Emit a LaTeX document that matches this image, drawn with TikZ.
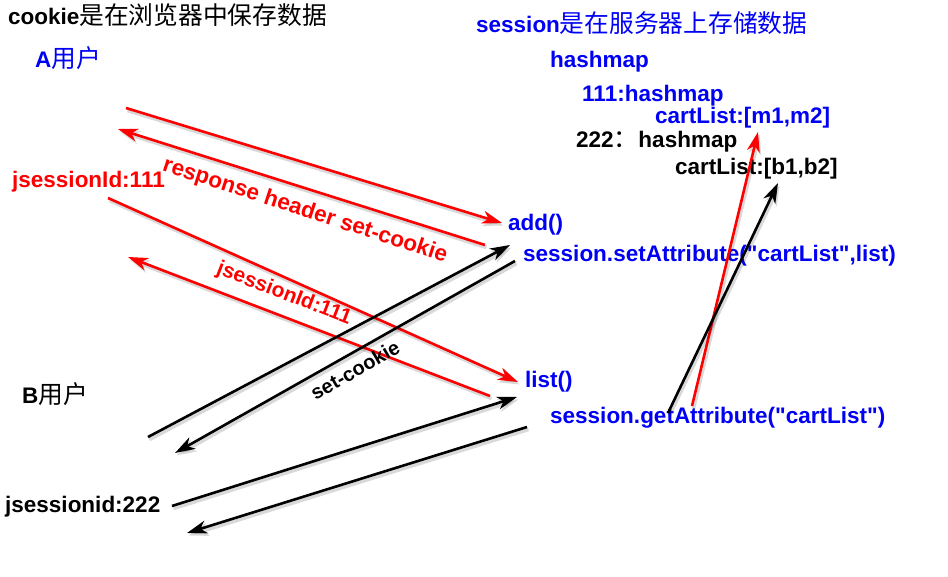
\documentclass[tikz,border=0pt]{standalone}
\usepackage{fontspec}
\setmainfont{Liberation Sans}[Ligatures=TeXOff]
\newfontfamily\cjk{Noto Sans CJK SC}[Scale=1.1]
\usetikzlibrary{arrows.meta}
\definecolor{cblue}{RGB}{0,0,245}
\definecolor{cred}{RGB}{255,0,0}
\newcommand{\zh}[1]{{\cjk\mdseries #1}}
\tikzset{
  txt/.style={anchor=base west, inner sep=0pt},
  arr/.style={-{Stealth[length=20pt,width=13pt,inset=6pt]}, line width=2.6pt,
    preaction={draw=black, opacity=.15, line width=3.6pt, transform canvas={shift={(1.5pt,-2.5pt)}}}}
}

\begin{document}
\begin{tikzpicture}[x=1pt, y=-1pt, font=\fontsize{22.5}{27}\selectfont\bfseries]
  \useasboundingbox (0,0) rectangle (948,577);
  \node[txt] (cookiehd) at (8,25) {cookie\zh{是在浏览器中保存数据}};
  \node[txt, cblue] (sessionhd) at (476,33) {session\zh{是在服务器上存储数据}};
  \node[txt, cblue] (usera) at (35,68) {A\zh{用户}};
  \node[txt] (userb) at (22,403) {B\zh{用户}};
  \node[txt, cblue] (map) at (550,68) {hashmap};
  \node[txt, cblue] (map1) at (582,102) {111:hashmap};
  \node[txt, cblue] (cart1) at (655,124) {cartList:[m1,m2]};
  \node[txt] (map2) at (576,148) {222\zh{：}hashmap};
  \node[txt] (cart2) at (675,175) {cartList:[b1,b2]};
  \node[txt, cred] (jsidA) at (12,188) {jsessionId:111};
  \node[txt, cblue] (add) at (508,231) {add()};
  \node[txt, cblue] (setattr) at (523,262) {session.setAttribute("cartList",list)};
  \node[txt, cblue] (list) at (525,388) {list()};
  \node[txt, cblue] (getattr) at (550,423) {session.getAttribute("cartList")};
  \node[txt] (jsidB) at (5,512) {jsessionid:222};

  \coordinate (reqA) at (126,108);   \coordinate (addin) at (502,223);
  \coordinate (addout) at (485,245); \coordinate (respA) at (118,129);
  \coordinate (reqA2) at (108,198);  \coordinate (listin) at (518,382);
  \coordinate (listout) at (490,396);\coordinate (respA2) at (128,257);
  \coordinate (getA) at (692,406);   \coordinate (cartA) at (758,132);
  \coordinate (reqB) at (148,437);   \coordinate (setin) at (510,245);
  \coordinate (setout) at (515,261); \coordinate (respB) at (175,453);
  \coordinate (reqB2) at (172,506);  \coordinate (listinB) at (517,397);
  \coordinate (listoutB) at (527,427);\coordinate (respB2) at (187,533);
  \coordinate (getB) at (668,413);   \coordinate (cartB) at (778,183);

  \foreach \s/\t in {reqA/addin,addout/respA,reqA2/listin,listout/respA2,getA/cartA}
    \draw[arr, cred] (\s) -- (\t);
  \node[cred, rotate=-18] (resplbl) at (305,211) {response header set-cookie};
  \node[cred, rotate=-21, font=\fontsize{21}{25}\selectfont\bfseries] (jsidlbl) at (284,294) {jsessionId:111};
  \foreach \s/\t in {reqB/setin,setout/respB,reqB2/listinB,listoutB/respB2,getB/cartB}
    \draw[arr, black] (\s) -- (\t);
  \node[rotate=30, font=\fontsize{20}{24}\selectfont\bfseries] (setlbl) at (355,370) {set-cookie};
\end{tikzpicture}
\end{document}
